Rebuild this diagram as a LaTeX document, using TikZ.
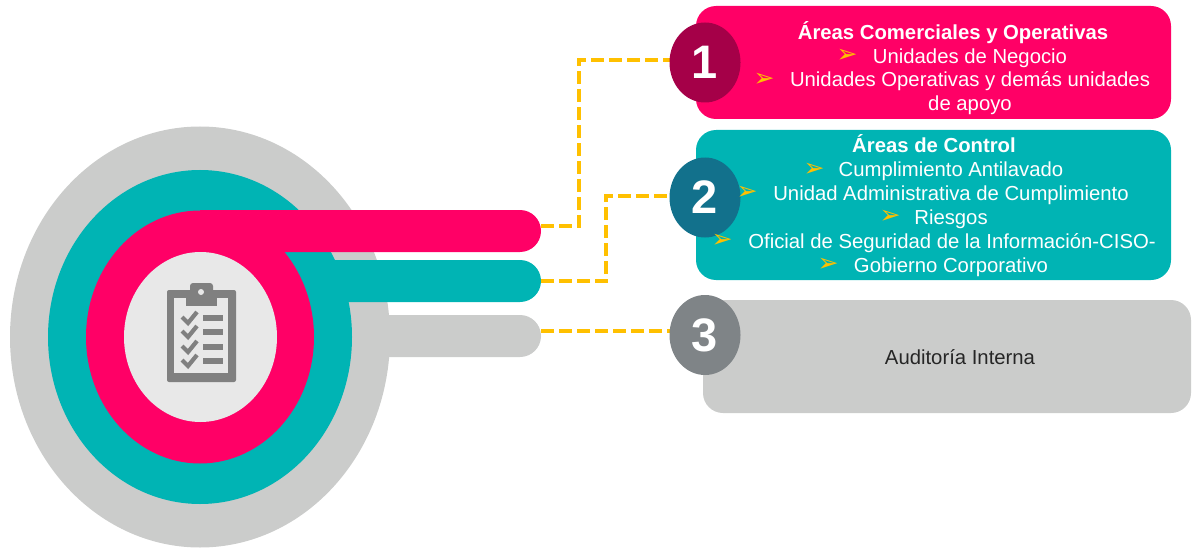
\documentclass[tikz,border=0pt]{standalone}
\usepackage{fontspec}
\setmainfont{Liberation Sans}
\newfontfamily\dejavu{DejaVu Sans}
\usetikzlibrary{shapes.geometric,shapes.misc}
\definecolor{cpink}{HTML}{FF0066}
\definecolor{cteal}{HTML}{00B4B4}
\definecolor{cgrey}{HTML}{CBCCCB}
\definecolor{cone}{HTML}{A50048}
\definecolor{ctwo}{HTML}{12718C}
\definecolor{cthree}{HTML}{7F8487}
\definecolor{clight}{HTML}{E8E8E8}
\definecolor{cicon}{HTML}{808080}
\definecolor{cdash}{HTML}{FFC000}
\tikzset{
  x=1pt,y=-1pt,
  disc/.style={ellipse,inner sep=0pt,outer sep=0pt,draw=none},
  bar/.style={rounded rectangle,rounded rectangle west arc=none,inner sep=0pt,outer sep=0pt,minimum height=42pt,anchor=east},
  panel/.style={rectangle,rounded corners=20pt,inner sep=0pt,outer sep=0pt,draw=none},
  numdisc/.style={disc,minimum width=71pt,minimum height=80pt},
  numtxt/.style={font=\fontsize{47}{47}\selectfont\bfseries,text=white},
  link/.style={draw=cdash,line width=4pt,dash pattern=on 13pt off 5pt},
  line/.style={anchor=base,text=white,font=\fontsize{20.3}{22}\selectfont,inner sep=0pt},
  head/.style={line,font=\fontsize{20.3}{22}\selectfont\bfseries},
  bul/.style={anchor=center,text=cdash,font=\fontsize{25}{25}\selectfont\dejavu,inner sep=0pt}
}
\begin{document}
\begin{tikzpicture}
\useasboundingbox (0,0) rectangle (1193,548);
% concentric target
\node[disc,fill=cgrey,minimum width=380pt,minimum height=421pt] (outer) at (200,337) {};
\node[bar,fill=cgrey,minimum width=200pt] (bar3) at (541,336) {};
\node[disc,fill=cteal,minimum width=304pt,minimum height=334pt] (mid) at (200,337) {};
\node[bar,fill=cteal,minimum width=280pt] (bar2) at (541,281) {};
\node[disc,fill=cpink,minimum width=228pt,minimum height=253pt] (inner) at (200,337) {};
\node[bar,fill=cpink,minimum width=341pt] (bar1) at (541,231) {};
\node[disc,fill=clight,minimum width=153pt,minimum height=170pt] (core) at (200.5,337) {};
% clipboard icon
\fill[cicon,rounded corners=2pt] (167,290) rectangle (236,382);
\fill[clight] (174,298) rectangle (228,373);
\fill[cicon,rounded corners=3pt] (190,283) rectangle (213,300);
\fill[cicon] (186,294) rectangle (217,306);
\fill[clight] (201,292) circle (3);
\foreach \yy in {318,332,347,361}{
  \draw[cicon,line width=4.2pt] (182,\yy-1) -- (188,\yy+5) -- (197,\yy-6);
  \fill[cicon] (203,\yy-3) rectangle (223,\yy+3);
}
% panels
\node[panel,fill=cpink,minimum width=475pt,minimum height=113pt] (p1) at (933.5,62.5) {};
\node[panel,fill=cteal,minimum width=475pt,minimum height=150pt] (p2) at (933.5,205) {};
\node[panel,fill=cgrey,minimum width=488pt,minimum height=113pt] (p3) at (947,356.5) {};
% connectors
\coordinate (s1) at (541,226);
\coordinate (m1a) at (579,226);
\coordinate (m1b) at (579,60);
\coordinate (s2) at (541,281);
\coordinate (m2a) at (606,281);
\coordinate (m2b) at (606,196);
\coordinate (s3) at (541,331);
\coordinate (e3) at (670,331);
\coordinate (e1) at (670,60);
\coordinate (e2) at (670,196);
\draw[link] (s1) -- (m1a) -- (m1b) -- (e1);
\draw[link] (s2) -- (m2a) -- (m2b) -- (e2);
\draw[link] (s3) -- (e3);
% text in panel 1
\node[head] (t10) at (953,39.5) {Áreas Comerciales y Operativas};
\node[line] (t11) at (970,63.5) {Unidades de Negocio};
\node[line] (t12) at (970,87) {Unidades Operativas y demás unidades};
\node[line] (t13) at (970,110.5) {de apoyo};
% text in panel 2
\node[head] (t20) at (934,153) {Áreas de Control};
\node[line] (t21) at (951,177) {Cumplimiento Antilavado};
\node[line] (t22) at (951,200.5) {Unidad Administrativa de Cumplimiento};
\node[line] (t23) at (951,224) {Riesgos};
\node[line] (t24) at (952,248) {Oficial de Seguridad de la Información-CISO-};
\node[line] (t25) at (951,272) {Gobierno Corporativo};
% text in panel 3
\node[line,text=black!85] (t31) at (960,364) {Auditoría Interna};
% numbered discs
\node[numdisc,fill=cone] (n1) at (705,62.5) {};
\node[numdisc,fill=ctwo] (n2) at (705,197.5) {};
\node[numdisc,fill=cthree] (n3) at (705,335) {};
\node[numtxt] at (n1) {1};
\node[numtxt] at (n2) {2};
\node[numtxt] at (n3) {3};
% bullets
\node[bul] (b11) at (847,56) {➢};
\node[bul] (b12) at (764,80) {➢};
\node[bul] (b21) at (814,170) {➢};
\node[bul] (b22) at (747,193) {➢};
\node[bul] (b23) at (890,217) {➢};
\node[bul] (b24) at (722,241) {➢};
\node[bul] (b25) at (828,265) {➢};
\end{tikzpicture}
\end{document}
